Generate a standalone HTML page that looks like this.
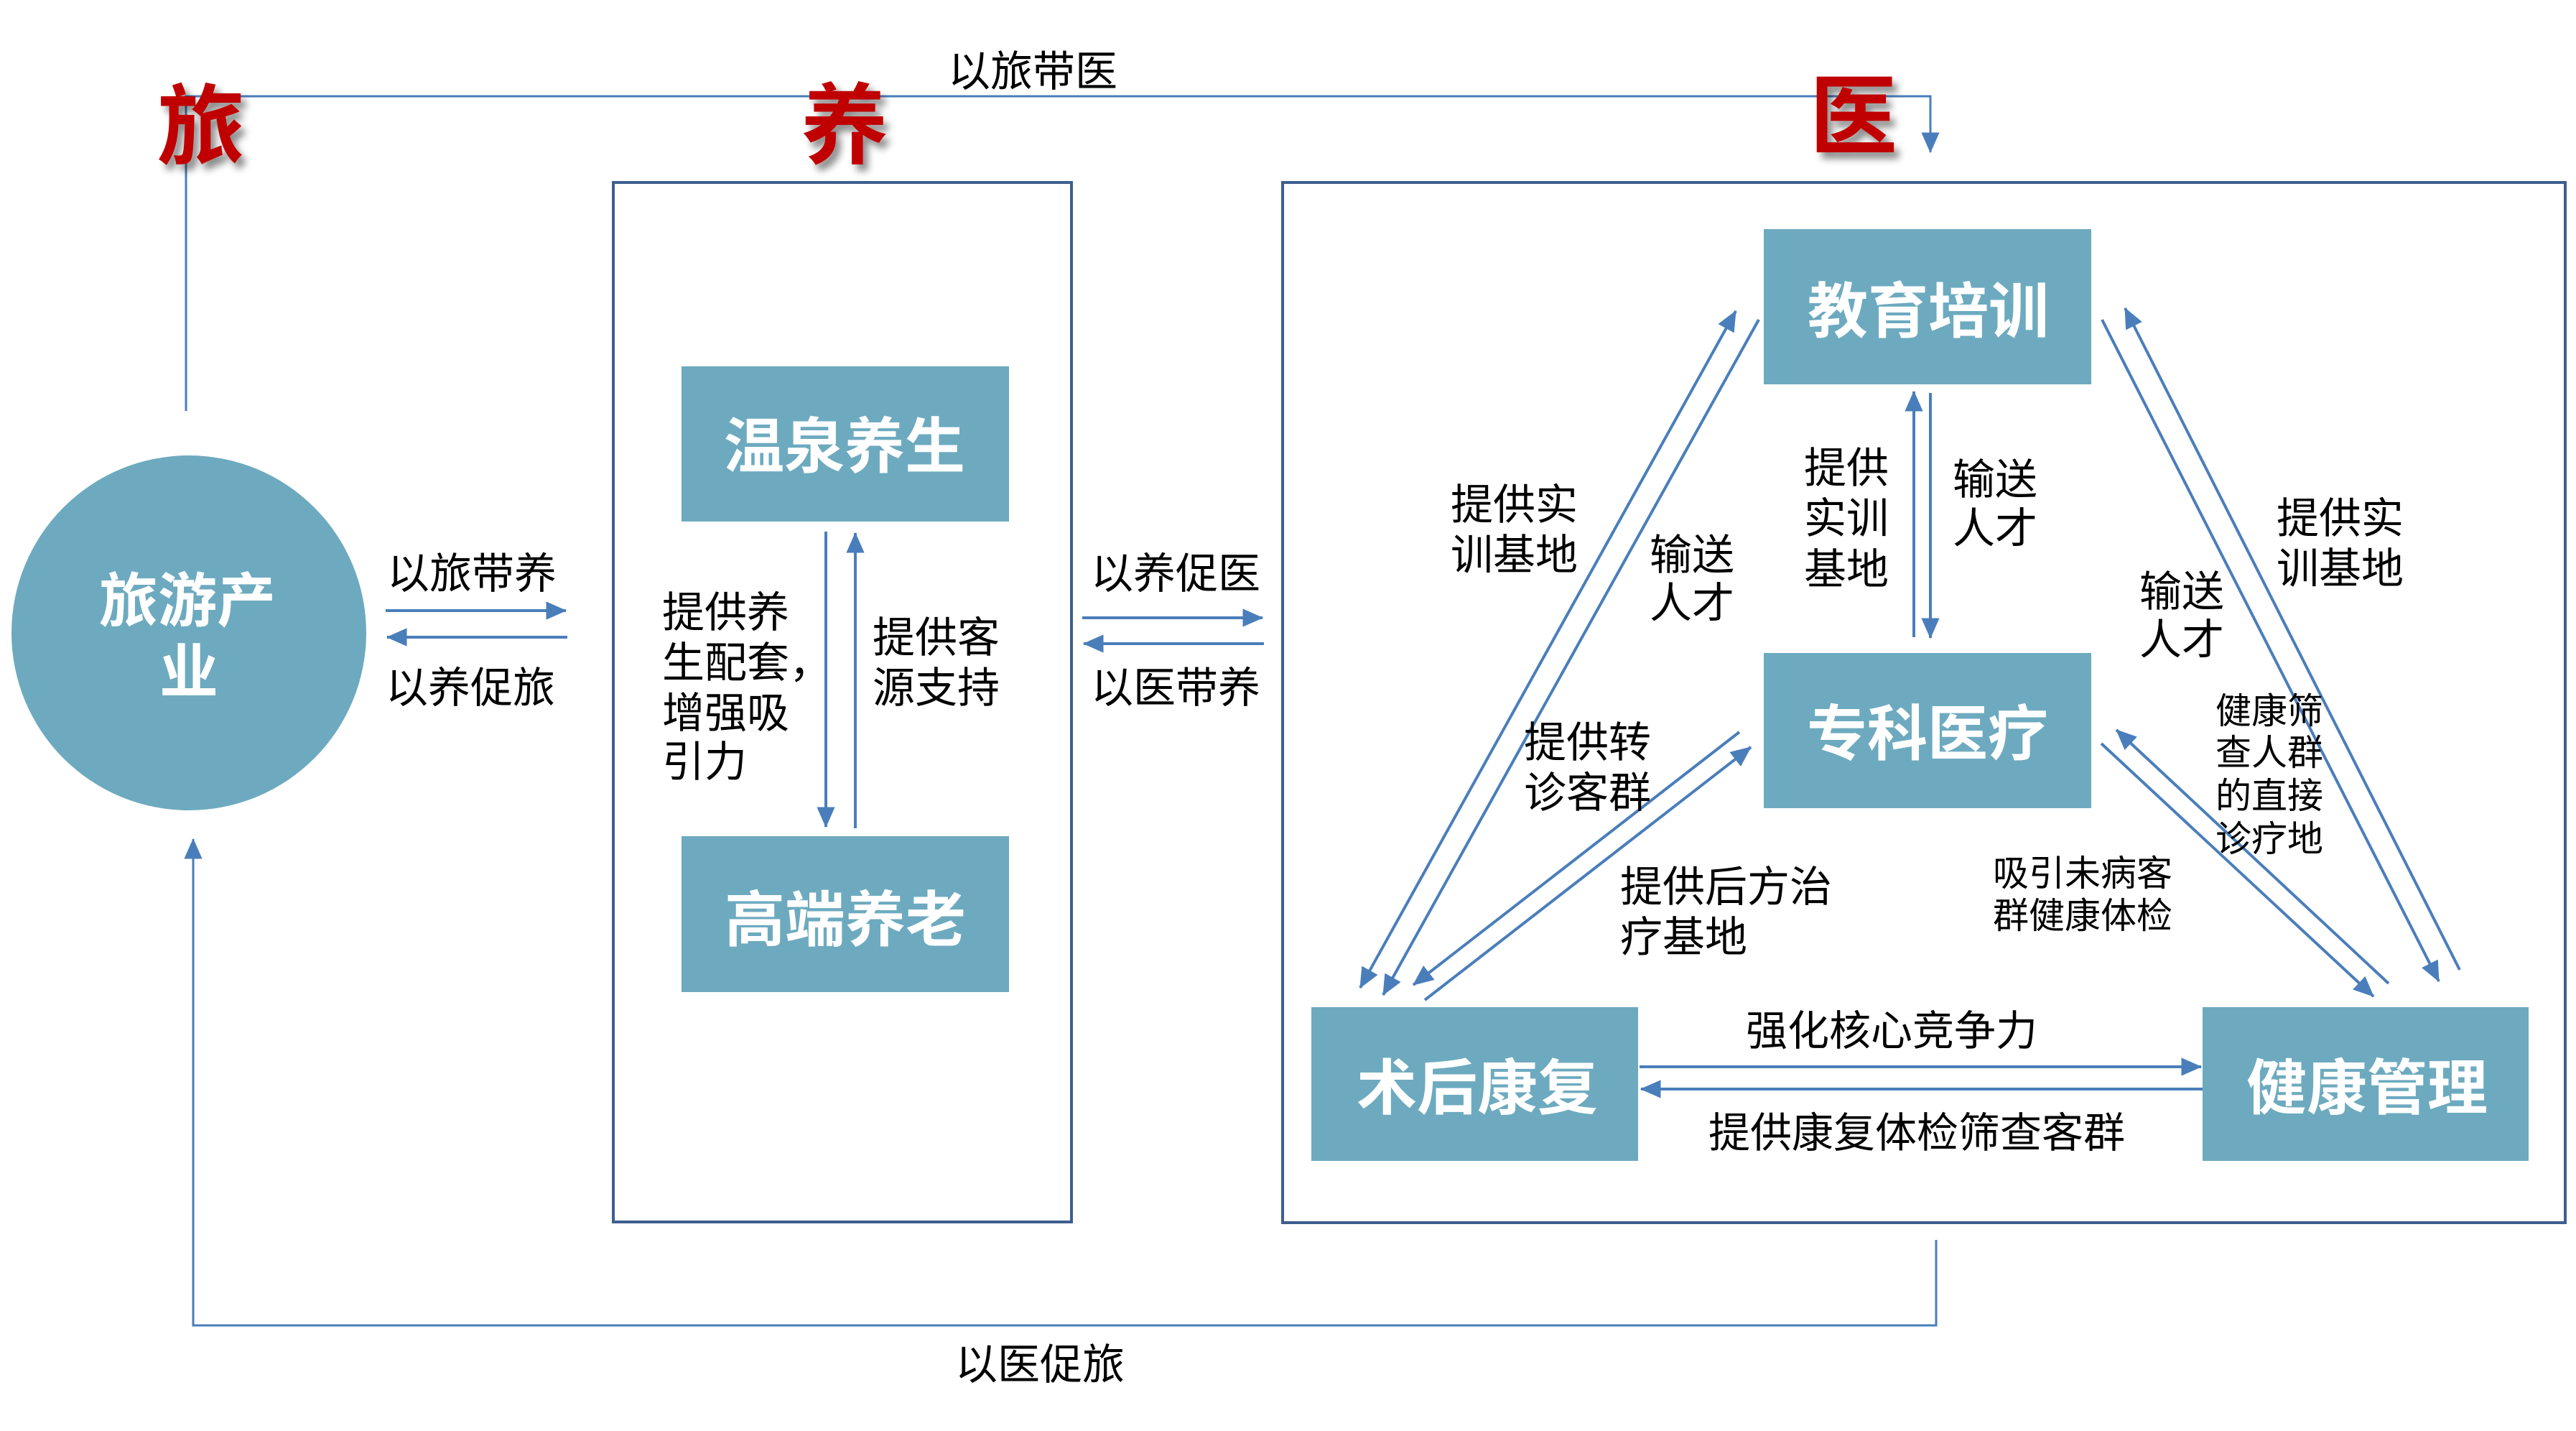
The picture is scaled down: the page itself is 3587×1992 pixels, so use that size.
<!DOCTYPE html>
<html><head><meta charset="utf-8"><style>
html,body{margin:0;padding:0;background:#fff;}
svg{display:block;}
text{font-family:"Liberation Sans","Noto Sans CJK SC",sans-serif;}
</style></head><body>
<svg width="3587" height="1992" viewBox="0 0 3587 1992" xmlns="http://www.w3.org/2000/svg">
<defs>
<marker id="ar" markerUnits="userSpaceOnUse" markerWidth="30" markerHeight="30" refX="24" refY="11" orient="auto-start-reverse" viewBox="0 0 26 22">
<path d="M0,0 L25,11 L0,22 z" fill="#4A7EBB"/>
</marker>
<filter id="sh" x="-20%" y="-20%" width="150%" height="150%">
<feDropShadow dx="7" dy="9" stdDeviation="5" flood-color="#000" flood-opacity="0.45"/>
</filter>
</defs>
<rect width="3587" height="1992" fill="#fff"/>

<!-- outer connectors -->
<path d="M259,572 V134 H2688 V212" fill="none" stroke="#4A7EBB" stroke-width="3" marker-end="url(#ar)"/>
<path d="M2696,1726 V1845 H269 V1168" fill="none" stroke="#4A7EBB" stroke-width="3" marker-end="url(#ar)"/>

<!-- group boxes -->
<rect x="854" y="254" width="638" height="1447" fill="none" stroke="#3D5F8E" stroke-width="4"/>
<rect x="1786" y="254" width="1786" height="1448" fill="none" stroke="#3D5F8E" stroke-width="4"/>

<!-- circle -->
<circle cx="263" cy="881" r="247" fill="#6DAABF"/>
<text x="261" y="865" font-size="82" font-weight="700" fill="#fff" text-anchor="middle">旅游产</text>
<text x="263" y="964" font-size="82" font-weight="700" fill="#fff" text-anchor="middle">业</text>

<!-- colored boxes -->
<rect x="949" y="510" width="456" height="216" fill="#6DAABF"/>
<rect x="949" y="1164" width="456" height="217" fill="#6DAABF"/>
<rect x="2456" y="319" width="456" height="216" fill="#6DAABF"/>
<rect x="2456" y="909" width="456" height="216" fill="#6DAABF"/>
<rect x="1826" y="1402" width="455" height="214" fill="#6DAABF"/>
<rect x="3067" y="1402" width="454" height="214" fill="#6DAABF"/>

<g font-size="84" font-weight="700" fill="#fff" text-anchor="middle">
<text x="1176" y="651">温泉养生</text>
<text x="1177" y="1310">高端养老</text>
<text x="2685" y="463">教育培训</text>
<text x="2684" y="1051">专科医疗</text>
<text x="2057" y="1544">术后康复</text>
<text x="3296" y="1544">健康管理</text>
</g>

<!-- arrows -->
<g stroke="#4A7EBB" stroke-width="4" fill="none" marker-end="url(#ar)">
<path d="M537,850 H788"/>
<path d="M790,887 H539"/>
<path d="M1507,860 H1758"/>
<path d="M1760,896 H1509"/>
<path d="M1150,740 V1151"/>
<path d="M1191,1153 V742"/>
<path d="M2665,887 V545"/>
<path d="M2688,547 V888"/>
<path d="M1894,1375 L2417,433" marker-start="url(#ar)"/>
<path d="M2449,445 L1926,1385"/>
<path d="M2422,1019 L1968,1371"/>
<path d="M1984,1392 L2438,1040"/>
<path d="M2926,1035 L3305,1387"/>
<path d="M3326,1369 L2947,1016"/>
<path d="M2927,445 L3396,1366"/>
<path d="M3425,1350 L2959,429"/>
<path d="M2283,1485 H3065"/>
<path d="M3067,1516 H2285"/>
</g>

<!-- big red characters -->
<g font-size="122" font-weight="700" fill="#C00000" text-anchor="middle" filter="url(#sh)">
<text x="280" y="219">旅</text>
<text x="1176" y="218">养</text>
<text x="2581" y="205">医</text>
</g>

<!-- labels -->
<g font-size="59" fill="#000">
<text x="1438" y="120" text-anchor="middle">以旅带医</text>
<text x="657" y="819" text-anchor="middle">以旅带养</text>
<text x="655" y="978" text-anchor="middle">以养促旅</text>
<text x="1637" y="819" text-anchor="middle">以养促医</text>
<text x="1637" y="978" text-anchor="middle">以医带养</text>
<text x="1448" y="1920" text-anchor="middle">以医促旅</text>

<text x="922" y="873">提供养</text>
<text x="922" y="943">生配套，</text>
<text x="922" y="1013">增强吸</text>
<text x="922" y="1081">引力</text>

<text x="1215" y="908">提供客</text>
<text x="1215" y="978">源支持</text>

<text x="2020" y="723">提供实</text>
<text x="2020" y="793">训基地</text>

<text x="2297" y="793">输送</text>
<text x="2297" y="860">人才</text>

<text x="2512" y="672">提供</text>
<text x="2512" y="742">实训</text>
<text x="2512" y="813">基地</text>

<text x="2719" y="688">输送</text>
<text x="2719" y="756">人才</text>

<text x="3170" y="742">提供实</text>
<text x="3170" y="812">训基地</text>

<text x="2979" y="844">输送</text>
<text x="2979" y="911">人才</text>

<text x="2122" y="1054">提供转</text>
<text x="2122" y="1124">诊客群</text>

<text x="2256" y="1255">提供后方治</text>
<text x="2256" y="1325">疗基地</text>

<text x="2431" y="1455" font-size="58">强化核心竞争力</text>
<text x="2379" y="1597" font-size="58">提供康复体检筛查客群</text>
</g>
<g font-size="50" fill="#000">
<text x="3085" y="1007">健康筛</text>
<text x="3085" y="1065">查人群</text>
<text x="3085" y="1125">的直接</text>
<text x="3085" y="1185">诊疗地</text>
<text x="2775" y="1233">吸引未病客</text>
<text x="2775" y="1292">群健康体检</text>
</g>
</svg>
</body></html>
